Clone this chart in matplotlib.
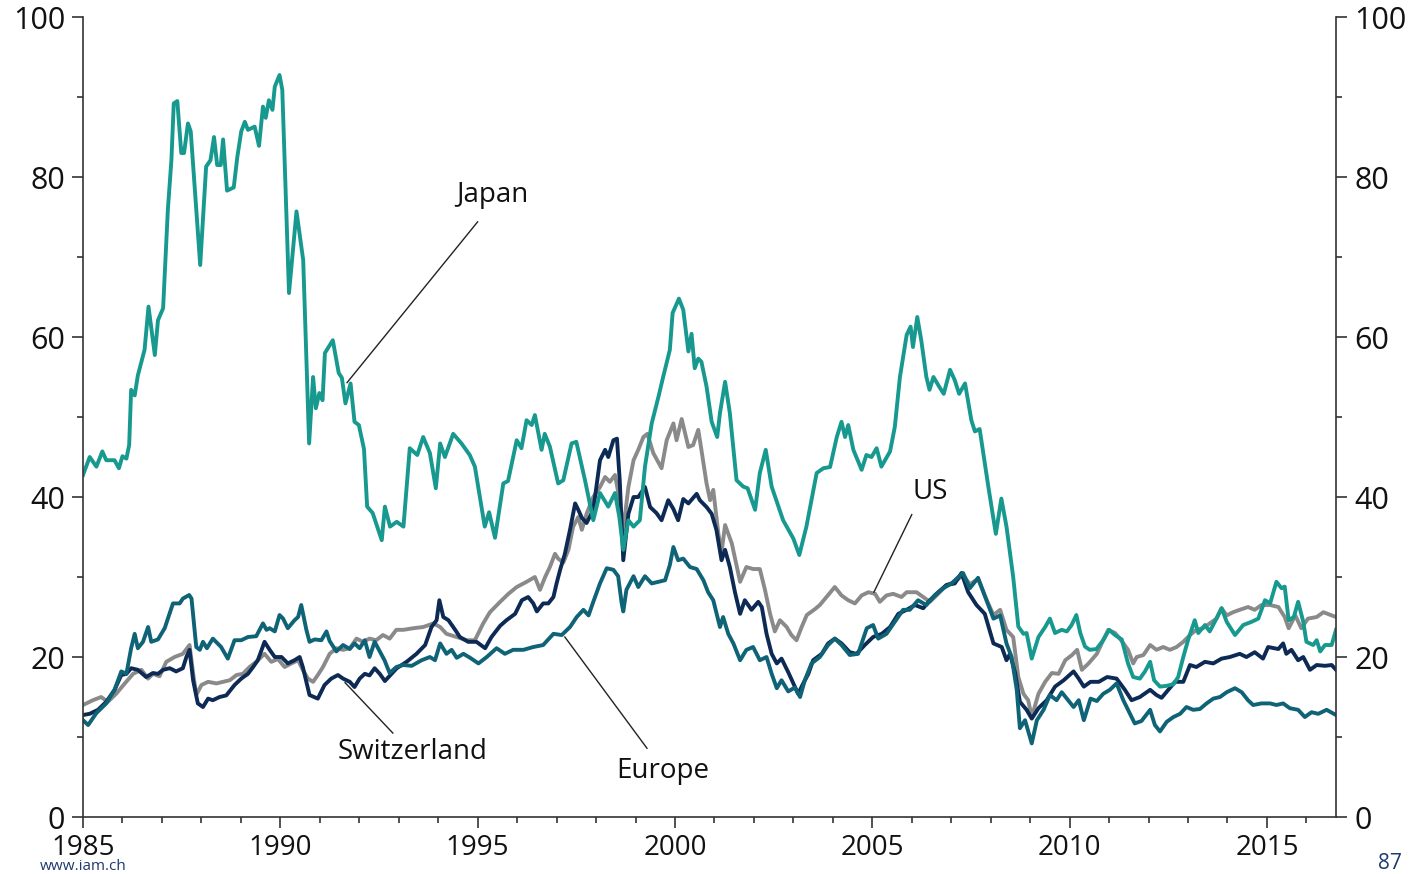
import matplotlib.pyplot as plt
from matplotlib.ticker import MultipleLocator

plt.rcParams['font.family'] = ['Open Sans', 'DejaVu Sans']

# --- DATA ---
japan_years = [1985.0, 1985.17, 1985.34, 1985.49, 1985.59, 1985.8, 1985.91, 1986.0, 1986.1, 1986.17,
               1986.22, 1986.31, 1986.39, 1986.56, 1986.66, 1986.82, 1986.9, 1987.03, 1987.15, 1987.24,
               1987.3, 1987.39, 1987.49, 1987.56, 1987.66, 1987.73, 1987.97, 1988.12, 1988.23, 1988.32,
               1988.4, 1988.49, 1988.55, 1988.65, 1988.82, 1988.91, 1989.01, 1989.1, 1989.18, 1989.35,
               1989.46, 1989.56, 1989.63, 1989.71, 1989.8, 1989.86, 1989.98, 1990.05, 1990.22, 1990.41,
               1990.58, 1990.73, 1990.83, 1990.9, 1990.99, 1991.07, 1991.13, 1991.33, 1991.48, 1991.56,
               1991.65, 1991.78, 1991.88, 1991.99, 1992.12, 1992.2, 1992.34, 1992.57, 1992.65, 1992.78,
               1992.95, 1993.12, 1993.28, 1993.47, 1993.62, 1993.79, 1993.94, 1994.05, 1994.17, 1994.38,
               1994.59, 1994.8, 1994.93, 1995.18, 1995.29, 1995.44, 1995.65, 1995.77, 1995.99, 1996.11,
               1996.24, 1996.37, 1996.45, 1996.62, 1996.7, 1996.83, 1997.04, 1997.17, 1997.38, 1997.5,
               1997.72, 1997.93, 1998.1, 1998.31, 1998.48, 1998.59, 1998.69, 1998.82, 1998.95, 1999.11,
               1999.24, 1999.41, 1999.58, 1999.7, 1999.87, 1999.94, 2000.1, 2000.21, 2000.34, 2000.42,
               2000.5, 2000.59, 2000.67, 2000.8, 2000.93, 2001.07, 2001.14, 2001.27, 2001.39, 2001.56,
               2001.73, 2001.84, 2002.03, 2002.15, 2002.3, 2002.45, 2002.74, 2003.0, 2003.15, 2003.33,
               2003.59, 2003.76, 2003.93, 2004.1, 2004.22, 2004.31, 2004.39, 2004.52, 2004.73, 2004.85,
               2004.98, 2005.11, 2005.23, 2005.45, 2005.57, 2005.7, 2005.87, 2005.97, 2006.03, 2006.14,
               2006.24, 2006.37, 2006.45, 2006.55, 2006.7, 2006.81, 2006.97, 2007.09, 2007.2, 2007.35,
               2007.51, 2007.6, 2007.72, 2007.94, 2008.13, 2008.27, 2008.4, 2008.57, 2008.7, 2008.83,
               2008.91, 2009.04, 2009.21, 2009.38, 2009.5, 2009.63, 2009.8, 2009.93, 2010.05, 2010.17,
               2010.27, 2010.39, 2010.51, 2010.68, 2010.85, 2011.0, 2011.15, 2011.32, 2011.48, 2011.61,
               2011.78, 2011.91, 2012.04, 2012.14, 2012.29, 2012.46, 2012.63, 2012.75, 2012.88, 2013.0,
               2013.17, 2013.26, 2013.43, 2013.55, 2013.72, 2013.85, 2013.98, 2014.19, 2014.4, 2014.61,
               2014.78, 2014.95, 2015.08, 2015.24, 2015.37, 2015.45, 2015.55, 2015.68, 2015.79, 2015.92,
               2016.0, 2016.17, 2016.26, 2016.35, 2016.47, 2016.64, 2016.75]
japan = [42.75, 45.0, 43.8, 45.7, 44.6, 44.6, 43.6, 45.1, 44.8, 46.5,
         53.4, 52.7, 55.2, 58.4, 63.8, 57.75, 62.1, 63.6, 75.9, 82.1,
         89.2, 89.5, 83.0, 83.0, 86.7, 85.7, 69.0, 81.3, 82.1, 85.0,
         81.5, 81.5, 84.7, 78.3, 78.7, 82.5, 85.7, 86.9, 85.9, 86.3,
         83.9, 88.8, 87.4, 89.6, 88.4, 91.3, 92.75, 90.9, 65.5, 75.7,
         69.6, 46.7, 55.0, 51.1, 53.0, 52.1, 58.0, 59.6, 55.5, 54.9,
         51.7, 54.2, 49.4, 49.0, 46.0, 38.8, 38.0, 34.6, 38.8, 36.3,
         36.9, 36.3, 46.1, 45.25, 47.5, 45.5, 41.1, 46.7, 45.0, 47.9,
         46.7, 45.25, 43.8, 36.3, 38.1, 34.9, 41.7, 42.0, 47.1, 46.1,
         49.6, 49.0, 50.25, 45.9, 47.9, 46.3, 41.7, 42.1, 46.7, 46.9,
         42.1, 37.1, 40.5, 38.8, 40.5, 37.5, 33.4, 37.1, 36.3, 37.1,
         43.8, 49.2, 52.5, 55.0, 58.4, 63.0, 64.8, 63.4, 58.2, 60.4,
         56.1, 57.3, 56.9, 53.8, 49.4, 47.5, 50.5, 54.4, 50.5, 42.1,
         41.3, 41.1, 38.4, 43.0, 45.9, 41.3, 37.1, 34.8, 32.75, 36.3,
         43.0, 43.6, 43.75, 47.5, 49.4, 47.5, 49.0, 45.9, 43.4, 45.25,
         45.0, 46.1, 43.8, 45.7, 48.75, 55.0, 60.25, 61.3, 58.75, 62.5,
         59.6, 55.0, 53.4, 55.0, 53.75, 52.9, 55.9, 54.6, 52.9, 54.2,
         49.6, 48.2, 48.5, 41.3, 35.4, 39.8, 36.3, 30.0, 23.8, 22.9,
         23.0, 19.8, 22.5, 23.75, 24.8, 23.0, 23.4, 23.2, 24.0, 25.25,
         23.0, 21.3, 20.9, 21.0, 22.1, 23.4, 22.75, 22.2, 19.2, 17.5,
         17.3, 18.2, 19.4, 17.1, 16.3, 16.4, 16.6, 17.5, 20.0, 22.1,
         24.6, 23.0, 24.0, 23.2, 24.8, 26.1, 24.4, 22.75, 24.0, 24.4,
         24.8, 27.1, 26.7, 29.4, 28.6, 28.8, 24.6, 25.0, 26.9, 24.4,
         21.9, 21.5, 22.1, 20.7, 21.5, 21.5, 23.4]

us_years = [1985.0, 1985.25, 1985.46, 1985.63, 1985.84, 1986.06, 1986.27, 1986.48, 1986.65, 1986.77,
            1986.94, 1987.11, 1987.32, 1987.53, 1987.7, 1987.79, 1987.87, 1988.0, 1988.17, 1988.38,
            1988.55, 1988.72, 1988.89, 1989.05, 1989.22, 1989.39, 1989.6, 1989.77, 1989.94, 1990.11,
            1990.28, 1990.45, 1990.57, 1990.7, 1990.83, 1990.95, 1991.08, 1991.25, 1991.42, 1991.59,
            1991.76, 1991.93, 1992.1, 1992.26, 1992.43, 1992.6, 1992.77, 1992.94, 1993.12, 1993.37,
            1993.62, 1993.88, 1994.05, 1994.21, 1994.47, 1994.72, 1994.93, 1995.14, 1995.31, 1995.57,
            1995.78, 1995.99, 1996.24, 1996.45, 1996.58, 1996.71, 1996.83, 1996.96, 1997.04, 1997.17,
            1997.3, 1997.42, 1997.55, 1997.64, 1997.76, 1997.93, 1998.1, 1998.23, 1998.35, 1998.48,
            1998.6, 1998.69, 1998.82, 1998.95, 1999.07, 1999.2, 1999.3, 1999.45, 1999.66, 1999.79,
            1999.96, 2000.04, 2000.17, 2000.34, 2000.46, 2000.59, 2000.67, 2000.8, 2000.89, 2000.97,
            2001.1, 2001.18, 2001.27, 2001.44, 2001.65, 2001.81, 2001.98, 2002.15, 2002.28, 2002.41,
            2002.53, 2002.66, 2002.83, 2002.95, 2003.08, 2003.21, 2003.34, 2003.55, 2003.67, 2003.84,
            2004.05, 2004.22, 2004.39, 2004.56, 2004.73, 2004.9, 2005.07, 2005.19, 2005.36, 2005.53,
            2005.74, 2005.87, 2006.12, 2006.29, 2006.46, 2006.67, 2006.88, 2007.09, 2007.3, 2007.47,
            2007.68, 2007.9, 2008.07, 2008.24, 2008.4, 2008.57, 2008.7, 2008.83, 2008.95, 2009.04,
            2009.21, 2009.38, 2009.55, 2009.72, 2009.89, 2010.06, 2010.19, 2010.31, 2010.48, 2010.69,
            2010.85, 2010.98, 2011.15, 2011.32, 2011.48, 2011.61, 2011.7, 2011.87, 2012.04, 2012.2,
            2012.37, 2012.54, 2012.71, 2012.88, 2013.05, 2013.21, 2013.38, 2013.55, 2013.72, 2013.85,
            2013.98, 2014.14, 2014.31, 2014.52, 2014.69, 2014.86, 2015.08, 2015.29, 2015.45, 2015.55,
            2015.72, 2015.87, 2016.04, 2016.26, 2016.43, 2016.64, 2016.75]
us = [14.0, 14.6, 15.0, 14.4, 15.4, 16.7, 17.9, 18.4, 17.3, 17.9,
      17.6, 19.4, 20.0, 20.4, 21.5, 18.0, 15.25, 16.5, 16.9, 16.7,
      16.9, 17.1, 17.75, 17.9, 18.75, 19.4, 20.4, 19.4, 19.75, 18.75,
      19.2, 19.6, 18.4, 17.3, 16.9, 17.75, 18.75, 20.4, 21.1, 20.9,
      21.1, 22.3, 21.9, 22.3, 22.1, 22.75, 22.3, 23.4, 23.4, 23.6,
      23.75, 24.2, 23.75, 22.9, 22.5, 22.1, 22.1, 24.2, 25.6, 26.9,
      27.9, 28.75, 29.4, 30.0, 28.4, 30.0, 31.25, 32.9, 32.3, 31.8,
      33.4, 36.3, 37.5, 35.9, 37.9, 40.0, 41.25, 42.5, 41.9, 42.75,
      39.6, 35.9, 41.25, 44.6, 45.9, 47.5, 47.9, 45.5, 43.6, 47.1,
      49.2, 47.1, 49.75, 46.25, 46.5, 48.4, 45.9, 41.7, 39.6, 40.9,
      35.4, 33.1, 36.5, 34.2, 29.4, 31.25, 31.0, 31.0, 28.4, 25.4,
      23.2, 24.6, 23.75, 22.75, 22.1, 23.75, 25.25, 26.0, 26.5, 27.5,
      28.75, 27.7, 27.1, 26.7, 27.7, 28.1, 27.9, 26.9, 27.7, 27.9,
      27.5, 28.1, 28.1, 27.5, 26.9, 27.9, 29.0, 29.4, 30.25, 29.1,
      29.75, 27.1, 25.25, 25.9, 23.4, 22.5, 17.5, 15.4, 14.6, 12.5,
      15.4, 16.9, 18.0, 17.9, 19.6, 20.25, 20.9, 18.4, 19.2, 20.4,
      22.1, 23.4, 23.0, 22.0, 20.9, 19.2, 20.0, 20.25, 21.5, 20.9,
      21.25, 20.9, 21.25, 21.9, 22.75, 23.4, 23.6, 24.2, 24.8, 26.1,
      25.2, 25.6, 25.9, 26.25, 25.9, 26.5, 26.5, 26.25, 25.0, 23.6,
      25.2, 23.6, 24.8, 25.0, 25.6, 25.2, 25.0]

swiss_years = [1985.0, 1985.17, 1985.38, 1985.59, 1985.8, 1985.97, 1986.1, 1986.22, 1986.39, 1986.6,
               1986.77, 1986.9, 1987.03, 1987.2, 1987.36, 1987.53, 1987.62, 1987.7, 1987.79, 1987.91,
               1988.04, 1988.17, 1988.29, 1988.46, 1988.63, 1988.84, 1989.01, 1989.18, 1989.31, 1989.43,
               1989.6, 1989.73, 1989.86, 1990.03, 1990.19, 1990.36, 1990.49, 1990.57, 1990.66, 1990.74,
               1990.95, 1991.12, 1991.29, 1991.46, 1991.59, 1991.76, 1991.88, 1992.01, 1992.14, 1992.26,
               1992.39, 1992.52, 1992.65, 1992.78, 1992.95, 1993.2, 1993.45, 1993.67, 1993.83, 1993.96,
               1994.03, 1994.13, 1994.26, 1994.43, 1994.55, 1994.76, 1994.97, 1995.19, 1995.35, 1995.57,
               1995.73, 1995.95, 1996.12, 1996.28, 1996.41, 1996.5, 1996.66, 1996.79, 1996.92, 1997.0,
               1997.09, 1997.21, 1997.34, 1997.47, 1997.55, 1997.64, 1997.76, 1997.93, 1998.1, 1998.23,
               1998.31, 1998.44, 1998.53, 1998.6, 1998.69, 1998.82, 1998.95, 1999.07, 1999.24, 1999.37,
               1999.53, 1999.66, 1999.83, 1999.96, 2000.08, 2000.21, 2000.34, 2000.55, 2000.63, 2000.8,
               2000.93, 2001.05, 2001.18, 2001.27, 2001.39, 2001.52, 2001.65, 2001.77, 2001.94, 2002.11,
               2002.2, 2002.32, 2002.45, 2002.58, 2002.7, 2002.87, 2003.0, 2003.12, 2003.25, 2003.38,
               2003.5, 2003.72, 2003.88, 2004.05, 2004.22, 2004.43, 2004.6, 2004.81, 2005.02, 2005.24,
               2005.45, 2005.66, 2005.87, 2006.08, 2006.29, 2006.46, 2006.67, 2006.88, 2007.09, 2007.26,
               2007.43, 2007.64, 2007.85, 2008.07, 2008.28, 2008.4, 2008.49, 2008.62, 2008.74, 2008.91,
               2009.04, 2009.21, 2009.42, 2009.63, 2009.85, 2010.1, 2010.23, 2010.36, 2010.53, 2010.74,
               2010.95, 2011.19, 2011.4, 2011.57, 2011.78, 2012.04, 2012.2, 2012.33, 2012.5, 2012.67,
               2012.88, 2013.05, 2013.21, 2013.43, 2013.64, 2013.85, 2014.06, 2014.31, 2014.48, 2014.69,
               2014.9, 2015.03, 2015.29, 2015.41, 2015.49, 2015.62, 2015.79, 2015.92, 2016.09, 2016.26,
               2016.47, 2016.64, 2016.75]
swiss = [12.75, 12.9, 13.4, 14.4, 15.9, 17.75, 17.9, 18.6, 18.4, 17.5,
         18.0, 17.9, 18.4, 18.6, 18.2, 18.6, 20.0, 20.9, 17.1, 14.2,
         13.75, 14.8, 14.6, 15.0, 15.2, 16.5, 17.3, 17.9, 18.75, 19.6,
         21.9, 20.9, 20.0, 20.0, 19.2, 19.6, 20.0, 18.75, 16.9, 15.25,
         14.8, 16.5, 17.3, 17.75, 17.3, 16.9, 16.25, 17.3, 17.9, 17.7,
         18.6, 17.9, 17.0, 17.7, 18.6, 19.4, 20.4, 21.5, 23.75, 24.6,
         27.1, 25.0, 24.6, 23.4, 22.5, 21.9, 21.9, 21.1, 22.5, 23.9,
         24.6, 25.4, 27.1, 27.5, 26.7, 25.7, 26.7, 26.7, 27.5, 29.2,
         30.9, 32.9, 35.9, 39.2, 38.4, 37.4, 36.75, 38.4, 44.6, 45.9,
         45.0, 47.1, 47.3, 42.1, 32.1, 37.9, 40.0, 40.0, 41.25, 38.75,
         38.0, 37.1, 39.6, 38.5, 37.1, 39.75, 39.2, 40.4, 39.6, 38.75,
         37.9, 35.9, 32.1, 33.4, 31.25, 28.1, 25.4, 27.1, 25.9, 26.9,
         26.25, 22.9, 20.4, 19.2, 19.8, 18.1, 16.7, 15.4, 16.7, 17.9,
         19.6, 20.4, 21.7, 22.3, 21.7, 20.6, 20.4, 21.5, 22.5, 22.9,
         23.75, 25.4, 25.9, 26.5, 26.1, 27.1, 28.1, 29.0, 29.2, 30.5,
         28.1, 26.5, 25.4, 21.7, 21.25, 19.6, 20.4, 18.0, 14.4, 13.4,
         12.3, 13.6, 14.6, 16.3, 17.1, 18.2, 17.3, 16.3, 16.9, 16.9,
         17.5, 17.3, 15.9, 14.6, 15.0, 15.9, 15.25, 14.9, 15.9, 16.9,
         16.9, 19.0, 18.75, 19.4, 19.2, 19.8, 20.0, 20.4, 20.0, 20.6,
         19.8, 21.25, 21.0, 21.7, 20.4, 20.9, 19.6, 20.0, 18.4, 19.0,
         18.9, 19.0, 18.4]

europe_years = [1985.0, 1985.13, 1985.34, 1985.59, 1985.8, 1985.97, 1986.1, 1986.22, 1986.31, 1986.39,
                1986.52, 1986.65, 1986.73, 1986.9, 1987.07, 1987.28, 1987.45, 1987.53, 1987.69, 1987.75,
                1987.87, 1987.96, 1988.04, 1988.14, 1988.29, 1988.5, 1988.67, 1988.84, 1989.01, 1989.18,
                1989.39, 1989.56, 1989.65, 1989.73, 1989.86, 1989.98, 1990.07, 1990.19, 1990.36, 1990.45,
                1990.53, 1990.66, 1990.74, 1990.87, 1991.04, 1991.17, 1991.25, 1991.42, 1991.59, 1991.76,
                1991.88, 1992.01, 1992.14, 1992.26, 1992.39, 1992.52, 1992.64, 1992.77, 1992.94, 1993.11,
                1993.33, 1993.58, 1993.79, 1993.92, 1994.05, 1994.21, 1994.34, 1994.47, 1994.64, 1994.81,
                1995.02, 1995.23, 1995.48, 1995.69, 1995.9, 1996.16, 1996.41, 1996.66, 1996.92, 1997.13,
                1997.34, 1997.51, 1997.68, 1997.81, 1997.93, 1998.1, 1998.27, 1998.44, 1998.56, 1998.65,
                1998.69, 1998.77, 1998.95, 1999.07, 1999.24, 1999.41, 1999.58, 1999.75, 1999.87, 1999.96,
                2000.08, 2000.21, 2000.38, 2000.55, 2000.72, 2000.84, 2000.97, 2001.14, 2001.22, 2001.35,
                2001.48, 2001.65, 2001.81, 2001.98, 2002.15, 2002.32, 2002.45, 2002.58, 2002.7, 2002.87,
                2003.04, 2003.17, 2003.29, 2003.46, 2003.67, 2003.88, 2004.05, 2004.22, 2004.43, 2004.64,
                2004.86, 2005.02, 2005.15, 2005.36, 2005.57, 2005.78, 2005.95, 2006.16, 2006.37, 2006.59,
                2006.8, 2007.01, 2007.18, 2007.3, 2007.47, 2007.68, 2007.9, 2008.07, 2008.24, 2008.4,
                2008.53, 2008.66, 2008.74, 2008.87, 2009.04, 2009.17, 2009.34, 2009.5, 2009.67, 2009.8,
                2009.93, 2010.1, 2010.23, 2010.36, 2010.53, 2010.69, 2010.85, 2011.02, 2011.19, 2011.36,
                2011.53, 2011.65, 2011.82, 2012.04, 2012.16, 2012.29, 2012.46, 2012.63, 2012.8, 2012.96,
                2013.13, 2013.3, 2013.47, 2013.64, 2013.81, 2013.98, 2014.19, 2014.36, 2014.52, 2014.65,
                2014.86, 2015.08, 2015.24, 2015.41, 2015.58, 2015.79, 2015.96, 2016.13, 2016.3, 2016.51,
                2016.75]
europe = [12.1, 11.5, 13.0, 14.2, 15.9, 18.2, 17.9, 21.1, 22.9, 21.1,
          21.9, 23.75, 21.9, 22.2, 23.6, 26.7, 26.7, 27.3, 27.75, 27.3,
          21.25, 20.9, 21.9, 21.1, 22.3, 21.25, 19.8, 22.1, 22.1, 22.5,
          22.6, 24.2, 23.4, 23.6, 23.2, 25.25, 24.8, 23.6, 24.6, 25.0,
          26.5, 23.4, 21.9, 22.2, 22.1, 23.2, 22.0, 20.7, 21.5, 21.0,
          21.7, 21.1, 22.1, 20.0, 21.9, 20.7, 19.6, 18.0, 18.75, 19.0,
          18.9, 19.6, 20.0, 19.6, 21.7, 20.4, 20.9, 19.9, 20.4, 19.9,
          19.2, 20.0, 21.1, 20.4, 20.9, 20.9, 21.25, 21.5, 22.9, 22.75,
          23.75, 25.0, 25.9, 25.2, 26.9, 29.2, 31.1, 30.9, 30.1, 26.7,
          25.7, 28.4, 30.1, 28.75, 30.1, 29.2, 29.4, 29.6, 31.5, 33.75,
          32.1, 32.3, 31.25, 31.0, 29.6, 28.1, 27.1, 23.75, 25.0, 22.9,
          21.7, 19.6, 20.9, 21.25, 19.6, 20.0, 17.9, 16.1, 17.1, 15.7,
          16.2, 15.0, 17.1, 19.2, 20.0, 21.5, 22.3, 21.5, 20.25, 20.4,
          23.6, 24.0, 22.3, 22.9, 24.4, 25.9, 25.9, 27.1, 26.5, 27.75,
          28.6, 29.2, 30.0, 30.5, 28.6, 29.9, 27.0, 24.8, 25.2, 21.7,
          20.0, 15.9, 11.1, 12.1, 9.2, 12.1, 13.4, 15.25, 14.6, 15.6,
          14.8, 13.75, 14.6, 12.1, 14.8, 14.5, 15.4, 15.9, 16.7, 14.6,
          12.9, 11.7, 12.0, 13.4, 11.5, 10.7, 11.9, 12.5, 12.9, 13.75,
          13.4, 13.5, 14.2, 14.8, 15.0, 15.6, 16.1, 15.6, 14.6, 14.0,
          14.2, 14.2, 14.0, 14.2, 13.6, 13.4, 12.5, 13.1, 12.9, 13.4,
          12.75]

# label text, text position and the point the leader line touches
labels = ["Japan", "US", "Switzerland", "Europe"]
label_xy = [(1995.36, 77.8), (2006.46, 40.6), (1993.36, 8.1), (1999.69, 5.7)]
label_line = [((1995.0, 74.4), (1991.69, 54.3)),
              ((2006.0, 37.8), (2005.04, 28.1)),
              ((1992.85, 10.5), (1991.64, 16.8)),
              ((1999.29, 8.6), (1997.21, 22.5))]

# --- PLOT ---
fig = plt.figure(figsize=(14.26, 8.74), dpi=100)
ax = fig.add_axes([0.0582, 0.0652, 0.8787, 0.9153])

ax.plot(us_years, us, color="#8a8a8a", lw=2.8)
ax.plot(swiss_years, swiss, color="#0d2a55", lw=2.8)
ax.plot(europe_years, europe, color="#0f6377", lw=2.8)
ax.plot(japan_years, japan, color="#17998f", lw=2.8)

for name, (tx, ty), (p0, p1) in zip(labels, label_xy, label_line):
    ax.text(tx, ty, name, fontsize=20, ha="center", va="center", color="#111111")
    ax.plot([p0[0], p1[0]], [p0[1], p1[1]], color="#222222", lw=1.0)

ax.set_xlim(1985, 2016.75)
ax.set_ylim(0, 100)
ax.xaxis.set_major_locator(MultipleLocator(5))
ax.xaxis.set_minor_locator(MultipleLocator(1))
ax.yaxis.set_major_locator(MultipleLocator(20))
ax.yaxis.set_minor_locator(MultipleLocator(10))

ax.spines["top"].set_visible(False)
for s in ["left", "right", "bottom"]:
    ax.spines[s].set_color("#333333")
    ax.spines[s].set_linewidth(1.2)

ax.tick_params(axis="both", which="major", direction="out", length=8, width=1.2,
               color="#333333", labelsize=22, labelcolor="#111111")
ax.tick_params(axis="x", which="major", labelsize=20, pad=4)
ax.tick_params(axis="both", which="minor", direction="out", length=4, width=1.2, color="#333333")
ax.tick_params(axis="y", which="both", left=True, right=True, labelleft=True, labelright=True, pad=5)

fig.text(0.028, 0.0, "www.iam.ch", fontsize=11, color="#1f3a6e", va="bottom")
fig.text(0.983, 0.0, "87", fontsize=15, color="#1f3a6e", ha="right", va="bottom")

fig.savefig("out.png", dpi=100)
